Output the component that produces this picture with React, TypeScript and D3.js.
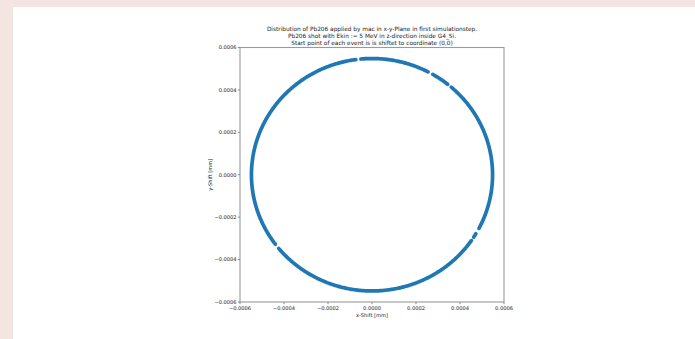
import * as d3 from 'd3';

// x/y ticks of the scatter axes
const xTicks = [-0.0006, -0.0004, -0.0002, 0, 0.0002, 0.0004, 0.0006];
const yTicks = [-0.0006, -0.0004, -0.0002, 0, 0.0002, 0.0004, 0.0006];

const titleLines = [
  'Distribution of Pb206 applied by mac in x-y-Plane in first simulationstep.',
  'Pb206 shot with Ekin := 5 MeV in z-direction inside G4_Si.',
  'Start point of each event is is shiftet to coordinate (0,0)',
];

// the hits all lie on a ring of this radius (mm)
const ringRadius = 0.000548;
// angular gaps in the ring (degrees, counter-clockwise from +x)
const gapCenters = [-33.5, -29, 50, 61, 96.5, 218];
const gapWidths = [2.0, 3.0, 2.2, 2.6, 2.4, 2.6];

const W = 695;
const H = 339;
const margin = { left: 240, right: 191, top: 47.5, bottom: 37 };

export default function App() {
  const x = d3.scaleLinear().domain([-0.0006, 0.0006]).range([margin.left, W - margin.right]);
  const y = d3.scaleLinear().domain([-0.0006, 0.0006]).range([H - margin.bottom, margin.top]);

  // build ring segments between gaps
  const gaps = gapCenters
    .map((c, i) => ({ s: c - gapWidths[i] / 2, e: c + gapWidths[i] / 2 }))
    .sort((a, b) => a.s - b.s);
  const segments: [number, number][] = [];
  for (let i = 0; i < gaps.length; i++) {
    const start = gaps[i].e;
    const end = i + 1 < gaps.length ? gaps[i + 1].s : gaps[0].s + 360;
    segments.push([start, end]);
  }

  const line = d3.line<number>()
    .x(a => x(ringRadius * Math.cos((a * Math.PI) / 180)))
    .y(a => y(ringRadius * Math.sin((a * Math.PI) / 180)));

  const segPaths = segments.map(([s, e]) => {
    const angs = d3.range(s, e, 0.5).concat([e]);
    return line(angs) || '';
  });

  const font = 'DejaVu Sans, sans-serif';
  const fmt = d3.format('.4f');
  const x0 = margin.left;
  const x1 = W - margin.right;
  const y0 = margin.top;
  const y1 = H - margin.bottom;
  const cx = (x0 + x1) / 2;

  return (
    <svg width={W} height={H} style={{ position: 'absolute', left: 0, top: 0 }} fontFamily={font}>
      <rect x={0} y={0} width={W} height={H} fill="#f2e5e2" />
      <rect x={13} y={7} width={W - 13} height={H - 7} fill="#ffffff" />

      {titleLines.map((t, i) => (
        <text key={i} x={cx} y={30.5 + i * 7.3} textAnchor="middle" fontSize={5.8} fill="#1a1a1a">
          {t}
        </text>
      ))}

      {segPaths.map((d, i) => (
        <path key={i} d={d} fill="none" stroke="#1f77b4" strokeWidth={3.7} strokeLinecap="round" />
      ))}

      <rect x={x0} y={y0} width={x1 - x0} height={y1 - y0} fill="none" stroke="#9a9a9a" strokeWidth={1.1} />

      {xTicks.map((t, i) => (
        <g key={'x' + i}>
          <line x1={x(t)} x2={x(t)} y1={y1} y2={y1 + 2.2} stroke="#777" strokeWidth={0.8} />
          <text x={x(t)} y={y1 + 8} textAnchor="middle" fontSize={5.1} fill="#1a1a1a">
            {t === 0 ? '0.0000' : fmt(t).replace('-', '\u2212')}
          </text>
        </g>
      ))}
      {yTicks.map((t, i) => (
        <g key={'y' + i}>
          <line x1={x0 - 2.2} x2={x0} y1={y(t)} y2={y(t)} stroke="#777" strokeWidth={0.8} />
          <text x={x0 - 3.5} y={y(t) + 1.8} textAnchor="end" fontSize={5.1} fill="#1a1a1a">
            {t === 0 ? '0.0000' : fmt(t).replace('-', '\u2212')}
          </text>
        </g>
      ))}

      <text x={cx} y={y1 + 14.5} textAnchor="middle" fontSize={5.1} fill="#1a1a1a">x-Shift [mm]</text>
      <text
        transform={`translate(${212},${(y0 + y1) / 2}) rotate(-90)`}
        textAnchor="middle"
        fontSize={5.1}
        fill="#1a1a1a"
      >
        y-Shift [mm]
      </text>
    </svg>
  );
}
